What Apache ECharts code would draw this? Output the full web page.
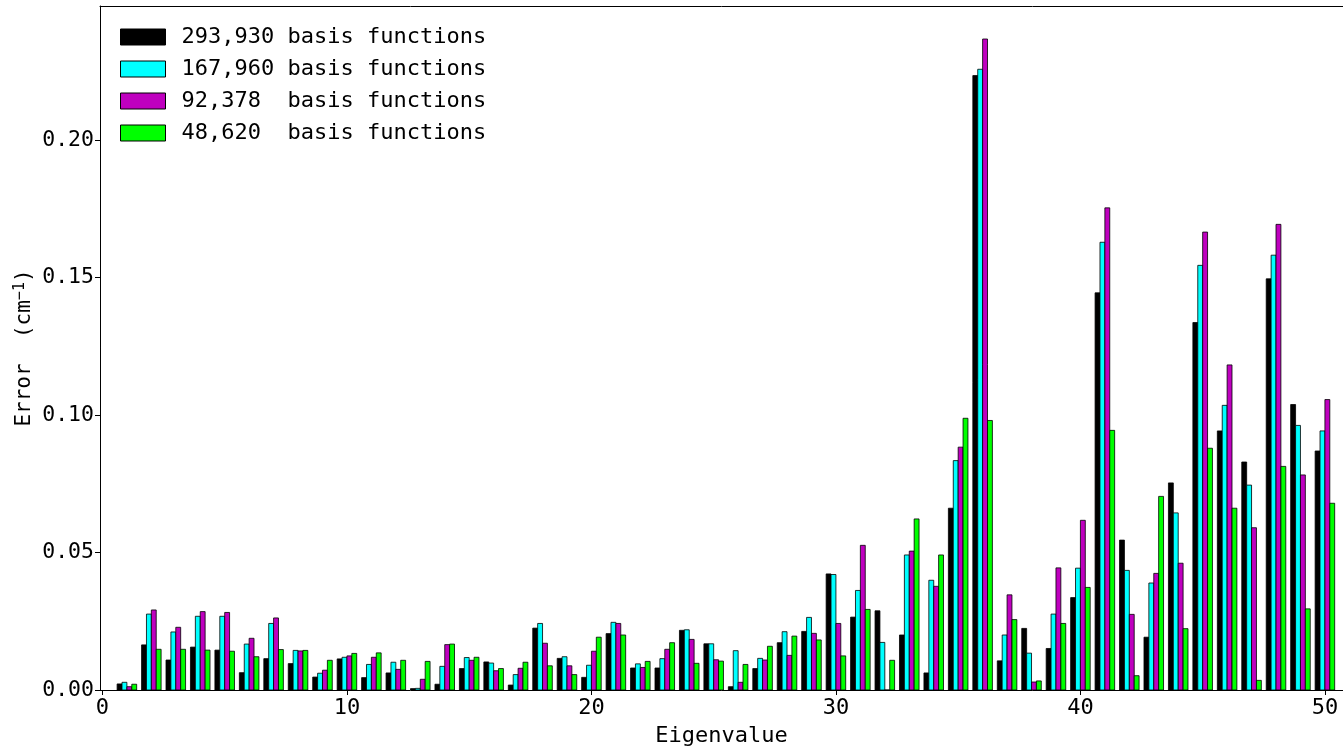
<!DOCTYPE html>
<html>
<head>
<meta charset="utf-8">
<script src="https://cdn.jsdelivr.net/npm/echarts@6/dist/echarts.min.js"></script>
<style>
  html, body { margin: 0; padding: 0; background: #fff; }
  #chart { width: 1343px; height: 750px; }
</style>
</head>
<body>
<div id="chart"></div>
<script>
// Eigenvalue indices 1..50
const eigenvalues = [1,2,3,4,5,6,7,8,9,10,11,12,13,14,15,16,17,18,19,20,21,22,23,24,25,26,27,28,29,30,31,32,33,34,35,36,37,38,39,40,41,42,43,44,45,46,47,48,49,50];

const seriesNames = ['293,930 basis functions', '167,960 basis functions', '92,378  basis functions', '48,620  basis functions'];

const err293930 = [0.0022,0.0164,0.0109,0.0156,0.0145,0.0063,0.0114,0.0096,0.0047,0.0113,
  0.0045,0.0062,0.0005,0.0021,0.0078,0.0102,0.0018,0.0225,0.0115,0.0046,
  0.0205,0.0080,0.0080,0.0217,0.0168,0.0012,0.0078,0.0172,0.0213,0.0422,
  0.0265,0.0288,0.0200,0.0062,0.0661,0.2234,0.0106,0.0224,0.0151,0.0336,
  0.1444,0.0545,0.0192,0.0753,0.1336,0.0942,0.0829,0.1495,0.1038,0.0869];

const err167960 = [0.0028,0.0276,0.0211,0.0268,0.0268,0.0167,0.0242,0.0144,0.0061,0.0119,
  0.0093,0.0101,0.0006,0.0086,0.0118,0.0098,0.0056,0.0242,0.0121,0.0090,
  0.0246,0.0095,0.0114,0.0219,0.0168,0.0143,0.0115,0.0212,0.0264,0.0420,
  0.0362,0.0173,0.0491,0.0399,0.0834,0.2257,0.0200,0.0134,0.0276,0.0443,
  0.1628,0.0435,0.0389,0.0644,0.1544,0.1035,0.0745,0.1581,0.0962,0.0942];

const err92378 = [0.0012,0.0291,0.0228,0.0285,0.0282,0.0188,0.0262,0.0142,0.0072,0.0124,
  0.0119,0.0075,0.0039,0.0165,0.0108,0.0070,0.0079,0.0170,0.0088,0.0141,
  0.0242,0.0082,0.0148,0.0184,0.0110,0.0028,0.0109,0.0126,0.0206,0.0242,
  0.0526,0.0000,0.0505,0.0377,0.0883,0.2367,0.0346,0.0029,0.0444,0.0617,
  0.1753,0.0275,0.0424,0.0461,0.1665,0.1182,0.0590,0.1693,0.0782,0.1056];

const err48620 = [0.0021,0.0148,0.0148,0.0145,0.0141,0.0121,0.0147,0.0144,0.0108,0.0133,
  0.0135,0.0108,0.0104,0.0167,0.0119,0.0078,0.0101,0.0088,0.0056,0.0192,
  0.0200,0.0104,0.0172,0.0097,0.0105,0.0093,0.0159,0.0196,0.0182,0.0124,
  0.0293,0.0108,0.0622,0.0491,0.0988,0.0980,0.0256,0.0033,0.0242,0.0373,
  0.0944,0.0052,0.0704,0.0223,0.0879,0.0661,0.0035,0.0813,0.0295,0.0679];

const xTicks = [0, 10, 20, 30, 40, 50];
const yTicks = [0, 0.05, 0.10, 0.15, 0.20];

const allSeries = [err293930, err167960, err92378, err48620];
const colors = ['#000000', '#00ffff', '#bf00bf', '#00ff00'];

const BAR_W = 0.2;
const FONT = 'DejaVu Sans Mono';

function renderBar(params, api) {
  const k = params.seriesIndex;
  const x = api.value(0);
  const y = api.value(1);
  const off = (k - 1.5) * BAR_W;
  const p0 = api.coord([x + off - BAR_W / 2, y]);
  const p1 = api.coord([x + off + BAR_W / 2, 0]);
  return {
    type: 'rect',
    shape: { x: p0[0], y: p0[1], width: p1[0] - p0[0], height: p1[1] - p0[1] },
    style: api.style({ stroke: '#000', lineWidth: 0.8 })
  };
}

const chart = echarts.init(document.getElementById('chart'), null, { renderer: 'canvas' });

const option = {
  animation: false,
  backgroundColor: '#fff',
  textStyle: { fontFamily: FONT },
  grid: { left: 100, right: 0, top: 6, bottom: 60, containLabel: false, outerBoundsMode: 'none' },
  legend: {
    orient: 'vertical',
    left: 120,
    top: 26,
    padding: 0,
    itemWidth: 45,
    itemHeight: 16,
    itemGap: 10,
    textStyle: { fontFamily: FONT, fontSize: 22, color: '#000', lineHeight: 22, padding: [0, 0, 0, 11] },
    data: seriesNames.map((n, i) => ({
      name: n,
      icon: 'rect',
      itemStyle: { color: colors[i], borderColor: '#000', borderWidth: 1 }
    }))
  },
  xAxis: [{
    type: 'value',
    min: -0.1,
    max: 50.74,
    name: 'Eigenvalue',
    nameLocation: 'middle',
    nameGap: 35,
    nameMoveOverlap: false,
    nameTextStyle: { fontFamily: FONT, fontSize: 22, color: '#000' },
    axisLine: { show: true, onZero: false, lineStyle: { color: '#000', width: 1 } },
    axisTick: { show: true, inside: false, length: 5, customValues: xTicks, lineStyle: { color: '#000' } },
    axisLabel: { customValues: xTicks, fontFamily: FONT, fontSize: 22, color: '#000', margin: 7,
      formatter: v => String(Math.round(v)) },
    splitLine: { show: false }
  }, {
    type: 'value',
    position: 'top',
    min: -0.1,
    max: 50.74,
    axisLine: { show: true, onZero: false, lineStyle: { color: '#000', width: 1 } },
    axisTick: { show: false },
    axisLabel: { show: false },
    splitLine: { show: false }
  }],
  yAxis: {
    type: 'value',
    min: 0,
    max: 0.2487,
    name: '{t|Error  (cm}{s|−1}{t|)}',
    nameLocation: 'middle',
    nameRotate: 90,
    nameGap: 64,
    nameMoveOverlap: false,
    nameTextStyle: {
      rich: {
        t: { fontFamily: FONT, fontSize: 21, color: '#000' },
        s: { fontFamily: FONT, fontSize: 15, color: '#000', verticalAlign: 'top', padding: [0, 0, 8, 0] }
      }
    },
    axisLine: { show: true, onZero: false, lineStyle: { color: '#000', width: 1 } },
    axisTick: { show: true, inside: false, length: 5, customValues: yTicks, lineStyle: { color: '#000' } },
    axisLabel: { customValues: yTicks, fontFamily: FONT, fontSize: 21.5, color: '#000', margin: 6,
      formatter: v => v.toFixed(2) },
    splitLine: { show: false }
  },
  series: allSeries.map((arr, i) => ({
    name: seriesNames[i],
    type: 'custom',
    xAxisIndex: 0,
    renderItem: renderBar,
    itemStyle: { color: colors[i] },
    encode: { x: 0, y: 1 },
    data: eigenvalues.map((e, j) => [e, arr[j]])
  }))
};

chart.setOption(option);
</script>
</body>
</html>
